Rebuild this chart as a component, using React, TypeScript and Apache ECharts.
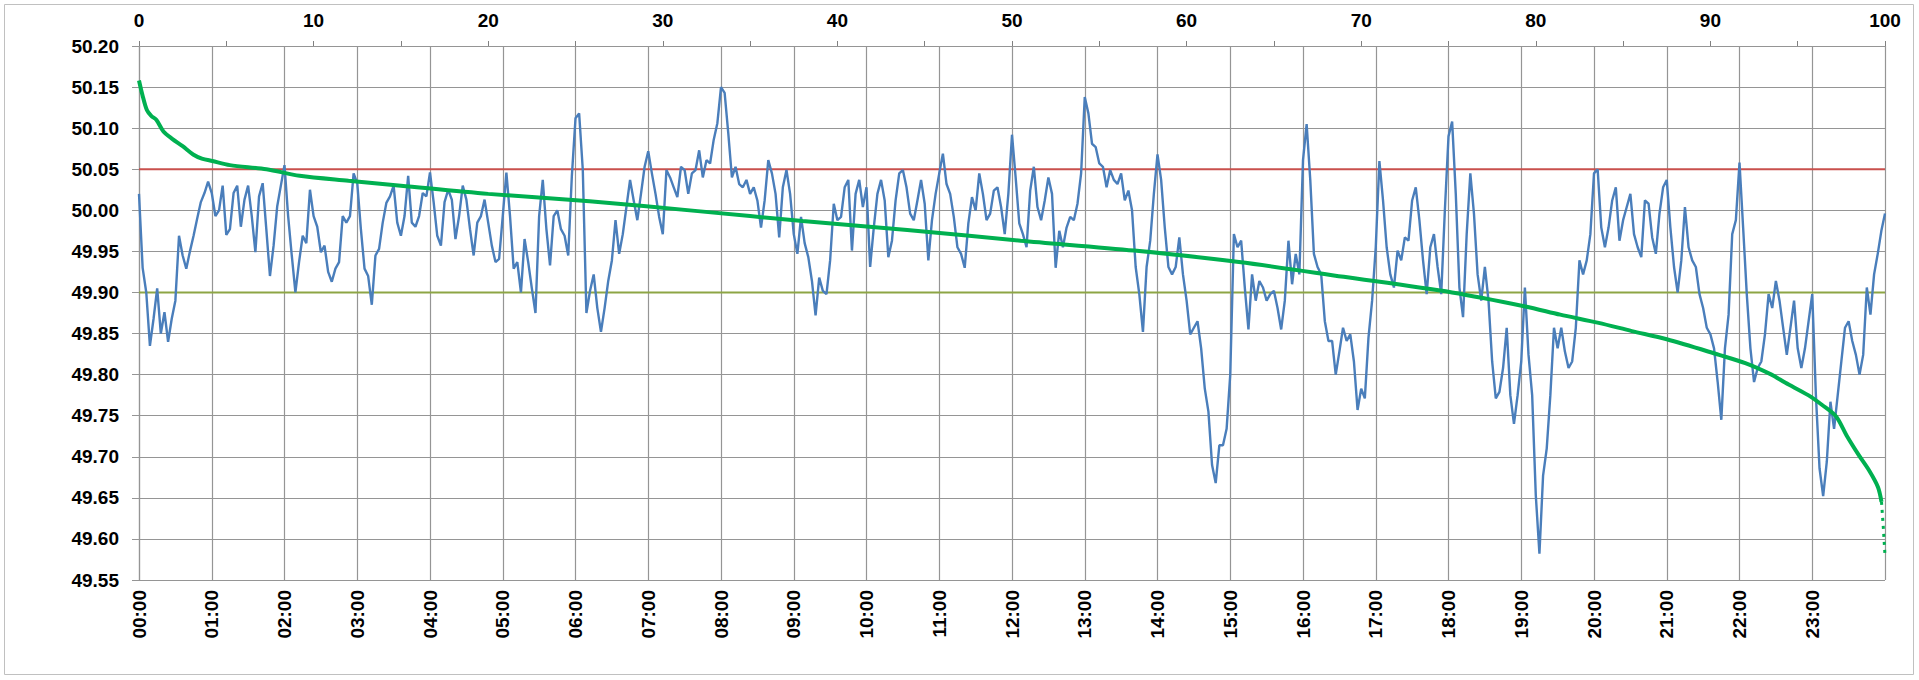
import React, { useEffect, useRef } from "react";
import * as echarts from "echarts";

// Frequency readings (Hz), one every 3 minutes from 00:00 to 24:00
const readingStepMinutes = 3;
const blueFreq: number[] = [
  // 00
  50.020, 49.930, 49.900, 49.835, 49.868, 49.905, 49.850, 49.876, 49.840, 49.868, 49.890, 49.969, 49.945, 49.929, 49.950, 49.969, 49.990, 50.010, 50.021, 50.035,
  // 01
  50.021, 49.993, 50.000, 50.030, 49.970, 49.977, 50.021, 50.030, 49.980, 50.013, 50.030, 49.993, 49.949, 50.017, 50.033, 49.977, 49.920, 49.957, 50.005, 50.030,
  // 02
  50.055, 49.993, 49.945, 49.900, 49.937, 49.969, 49.960, 50.025, 49.993, 49.980, 49.949, 49.957, 49.925, 49.913, 49.929, 49.937, 49.993, 49.985, 49.993, 50.045,
  // 03
  50.033, 49.977, 49.929, 49.920, 49.885, 49.945, 49.953, 49.985, 50.009, 50.017, 50.030, 49.985, 49.969, 49.993, 50.042, 49.985, 49.980, 49.993, 50.021, 50.017,
  // 04
  50.046, 50.010, 49.969, 49.957, 50.010, 50.025, 50.013, 49.965, 49.993, 50.030, 50.013, 49.977, 49.945, 49.985, 49.993, 50.013, 49.985, 49.957, 49.937, 49.941,
  // 05
  49.993, 50.046, 49.993, 49.929, 49.937, 49.900, 49.965, 49.937, 49.905, 49.875, 49.993, 50.037, 49.977, 49.933, 49.993, 50.000, 49.977, 49.969, 49.945, 50.042,
  // 06
  50.112, 50.118, 50.050, 49.875, 49.902, 49.922, 49.881, 49.852, 49.881, 49.914, 49.939, 49.988, 49.947, 49.971, 50.004, 50.037, 50.012, 49.988, 50.020, 50.053,
  // 07
  50.072, 50.045, 50.020, 49.992, 49.971, 50.049, 50.040, 50.028, 50.016, 50.053, 50.049, 50.020, 50.045, 50.049, 50.073, 50.040, 50.061, 50.057, 50.086, 50.106,
  // 08
  50.150, 50.143, 50.094, 50.040, 50.053, 50.032, 50.028, 50.037, 50.020, 50.028, 50.012, 49.979, 50.012, 50.061, 50.045, 50.020, 49.967, 50.028, 50.049, 50.020,
  // 09
  49.971, 49.947, 49.992, 49.960, 49.943, 49.914, 49.872, 49.918, 49.902, 49.898, 49.939, 50.008, 49.988, 49.992, 50.028, 50.037, 49.951, 50.020, 50.037, 50.004,
  // 10
  50.028, 49.931, 49.979, 50.020, 50.037, 50.012, 49.943, 49.963, 50.012, 50.045, 50.049, 50.028, 49.996, 49.988, 50.012, 50.037, 50.008, 49.939, 49.988, 50.020,
  // 11
  50.045, 50.069, 50.032, 50.020, 49.992, 49.955, 49.947, 49.930, 49.984, 50.016, 50.000, 50.045, 50.020, 49.988, 49.996, 50.024, 50.028, 50.004, 49.971, 50.020,
  // 12
  50.092, 50.040, 49.984, 49.971, 49.955, 50.024, 50.053, 50.004, 49.988, 50.012, 50.040, 50.020, 49.930, 49.975, 49.955, 49.979, 49.992, 49.988, 50.008, 50.045,
  // 13
  50.138, 50.118, 50.081, 50.077, 50.057, 50.053, 50.028, 50.049, 50.037, 50.032, 50.045, 50.012, 50.024, 50.000, 49.931, 49.898, 49.852, 49.931, 49.963, 50.020,
  // 14
  50.068, 50.037, 49.979, 49.931, 49.922, 49.931, 49.967, 49.922, 49.890, 49.849, 49.857, 49.865, 49.832, 49.783, 49.755, 49.690, 49.668, 49.714, 49.714, 49.734,
  // 15
  49.800, 49.971, 49.955, 49.963, 49.906, 49.855, 49.922, 49.890, 49.914, 49.906, 49.890, 49.898, 49.902, 49.881, 49.855, 49.890, 49.963, 49.910, 49.947, 49.922,
  // 16
  50.061, 50.105, 50.037, 49.947, 49.931, 49.922, 49.865, 49.841, 49.841, 49.800, 49.828, 49.857, 49.841, 49.849, 49.816, 49.757, 49.783, 49.771, 49.845, 49.890,
  // 17
  49.955, 50.060, 50.012, 49.955, 49.922, 49.906, 49.951, 49.939, 49.967, 49.963, 50.012, 50.028, 49.988, 49.939, 49.898, 49.955, 49.971, 49.931, 49.898, 50.000,
  // 18
  50.090, 50.108, 50.020, 49.906, 49.870, 49.971, 50.045, 49.996, 49.922, 49.890, 49.931, 49.890, 49.816, 49.771, 49.779, 49.808, 49.857, 49.775, 49.740, 49.775,
  // 19
  49.816, 49.906, 49.824, 49.775, 49.653, 49.582, 49.677, 49.710, 49.775, 49.857, 49.832, 49.857, 49.828, 49.808, 49.816, 49.857, 49.939, 49.922, 49.939, 49.971,
  // 20
  50.045, 50.050, 49.979, 49.955, 49.979, 50.012, 50.028, 49.963, 49.988, 50.004, 50.020, 49.971, 49.955, 49.943, 50.012, 50.008, 49.967, 49.947, 49.996, 50.028,
  // 21
  50.037, 49.979, 49.931, 49.900, 49.939, 50.004, 49.955, 49.939, 49.931, 49.898, 49.881, 49.857, 49.849, 49.832, 49.791, 49.745, 49.832, 49.873, 49.971, 49.988,
  // 22
  50.058, 49.979, 49.898, 49.832, 49.791, 49.808, 49.816, 49.849, 49.898, 49.881, 49.914, 49.890, 49.857, 49.824, 49.857, 49.890, 49.832, 49.808, 49.832, 49.865,
  // 23
  49.898, 49.775, 49.686, 49.652, 49.694, 49.767, 49.734, 49.775, 49.816, 49.857, 49.865, 49.841, 49.824, 49.800, 49.824, 49.906, 49.873, 49.922, 49.947, 49.975,
  // 24:00
  49.996,
];

// Duration curve: share of time (%) vs frequency (Hz)
const durationPct: number[] = [
  0, 0.2, 0.45, 0.7, 1.0, 1.4, 1.9, 2.5, 3.1, 3.6, 4.2, 5.2, 7.3, 9.2, 12, 15, 20, 25.8, 32, 38, 44, 50.5, 57, 63, 69,
  75.2, 79.4, 81.4, 83.6, 85.5, 87.5, 90.5, 92, 93.5, 94.3, 95.6, 96.4, 97.2, 97.8, 98.5, 99.1, 99.6, 99.8,
];
const durationFreq: number[] = [
  50.158, 50.14, 50.122, 50.115, 50.11, 50.096, 50.087, 50.078, 50.068, 50.063, 50.06, 50.055, 50.05, 50.042, 50.036, 50.03, 50.02, 50.011, 49.999, 49.987, 49.976, 49.963, 49.951, 49.937, 49.919,
  49.9, 49.883, 49.873, 49.863, 49.853, 49.843, 49.824, 49.814, 49.8, 49.79, 49.775, 49.763, 49.749, 49.726, 49.702, 49.683, 49.663, 49.645,
];
const durationTailPct: number[] = [99.8, 99.9, 100];
const durationTailFreq: number[] = [49.645, 49.615, 49.58];

const upperLimit = 50.05;
const lowerLimit = 49.9;
const pctRange = [0, 100];

const yMin = 49.55;
const yMax = 50.2;
const yStep = 0.05;

const labelFont = {
  fontFamily: "'Liberation Sans', Arial, sans-serif",
  fontWeight: "bold" as const,
  fontSize: 19,
  color: "#000",
};

function hhmm(v: number): string {
  const h = Math.floor(v / 60);
  const m = Math.round(v % 60);
  return String(h).padStart(2, "0") + ":" + String(m).padStart(2, "0");
}

export default function App() {
  const ref = useRef<HTMLDivElement>(null);

  useEffect(() => {
    document.body.style.margin = "0";
    if (!ref.current) return;
    const chart = echarts.init(ref.current, null, { renderer: "svg" });
    const gridColor = "#959595";
    chart.setOption({
      animation: false,
      backgroundColor: "#ffffff",
      graphic: [
        {
          type: "rect",
          shape: { x: 4.5, y: 4.5, width: 1909, height: 670 },
          style: { fill: "none", stroke: "#c0c0c0", lineWidth: 1 },
          silent: true,
        },
      ],
      grid: { left: 139, right: 34, top: 46, bottom: 100, containLabel: false },
      xAxis: [
        {
          type: "value",
          min: 0,
          max: 1440,
          interval: 60,
          position: "bottom",
          axisLine: { show: false },
          axisTick: { show: false },
          splitLine: { show: true, lineStyle: { color: gridColor, width: 1.2 } },
          axisLabel: {
            ...labelFont,
            rotate: 90,
            margin: 10,
            formatter: (v: number) => (v >= 1440 ? "" : hhmm(v)),
          },
        },
        {
          type: "value",
          min: pctRange[0],
          max: pctRange[1],
          interval: 10,
          position: "top",
          axisLine: { show: false },
          axisTick: { show: true, length: 5, lineStyle: { color: "#808080" } },
          minorTick: { show: true, splitNumber: 2, length: 5, lineStyle: { color: "#808080" } },
          splitLine: { show: false },
          axisLabel: { ...labelFont, margin: 16 },
        },
      ],
      yAxis: {
        type: "value",
        min: yMin,
        max: yMax,
        interval: yStep,
        axisLine: { show: true, lineStyle: { color: gridColor, width: 1.2 } },
        axisTick: { show: true, length: 7, lineStyle: { color: gridColor } },
        splitLine: { show: true, lineStyle: { color: gridColor, width: 1.2 } },
        axisLabel: { ...labelFont, margin: 20, formatter: (v: number) => v.toFixed(2) },
      },
      series: [
        {
          name: "upper",
          type: "line",
          xAxisIndex: 1,
          data: [
            [pctRange[0], upperLimit],
            [pctRange[1], upperLimit],
          ],
          showSymbol: false,
          lineStyle: { color: "#C9504D", width: 2 },
          z: 2,
        },
        {
          name: "lower",
          type: "line",
          xAxisIndex: 1,
          data: [
            [pctRange[0], lowerLimit],
            [pctRange[1], lowerLimit],
          ],
          showSymbol: false,
          lineStyle: { color: "#8DA545", width: 2 },
          z: 2,
        },
        {
          name: "frequency",
          type: "line",
          xAxisIndex: 0,
          data: blueFreq.map((v, i) => [i * readingStepMinutes, v]),
          showSymbol: false,
          lineStyle: { color: "#4A7EBB", width: 2.4 },
          z: 3,
        },
        {
          name: "duration",
          type: "line",
          xAxisIndex: 1,
          data: durationPct.map((p, i) => [p, durationFreq[i]]),
          showSymbol: false,
          smooth: 0.3,
          lineStyle: { color: "#00B050", width: 4 },
          z: 4,
        },
        {
          name: "durationTail",
          type: "line",
          xAxisIndex: 1,
          data: durationTailPct.map((p, i) => [p, durationTailFreq[i]]),
          showSymbol: false,
          lineStyle: { color: "#00B050", width: 3, type: [3, 5] },
          z: 4,
        },
      ],
    });
    return () => chart.dispose();
  }, []);

  return <div ref={ref} style={{ width: 1919, height: 680 }} />;
}
